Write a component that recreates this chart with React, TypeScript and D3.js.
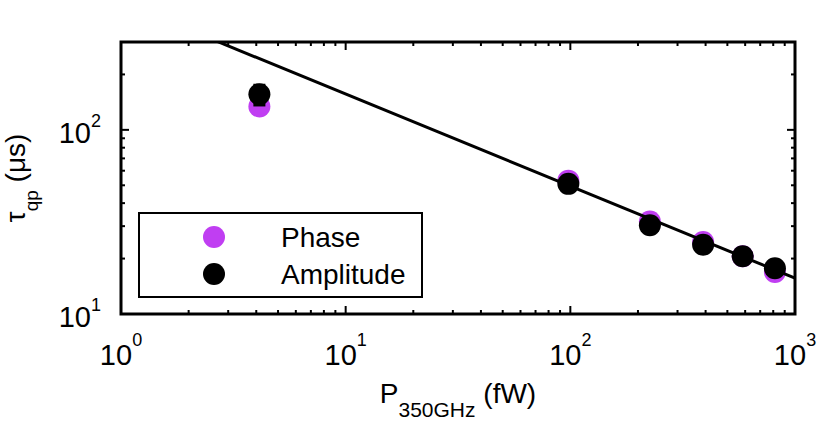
import React from 'react';
import * as d3 from 'd3';

const W = 830;
const H = 426;
const PLOT = { left: 121, right: 795, top: 42, bottom: 314 };

// measured data
const power = [4.13, 98, 226, 390, 585, 814];
const phaseTau = [134, 53, 31.8, 24.6, 20.6, 16.9];
const ampTau = [156, 50.9, 30.3, 23.8, 20.6, 17.7];
const ampErr = [22, 1, 1, 1, 0.8, 0.6];

// power-law fit, tau ~ P^-0.5
const fitP = [1, 1000];
const fitTau = [495, 15.65];

const xTickExps = [0, 1, 2, 3];
const yTickExps = [1, 2];

const PURPLE = '#c03ef2';
const FONT = '"Liberation Sans", Arial, Helvetica, sans-serif';

const App: React.FC = () => {
  const x = d3.scaleLog().domain([1, 1000]).range([PLOT.left, PLOT.right]);
  const y = d3.scaleLog().domain([10, 300]).range([PLOT.bottom, PLOT.top]);

  const isMajor = (v: number) => Math.abs(Math.log10(v) - Math.round(Math.log10(v))) < 1e-9;
  const xTicks = x.ticks();
  const yTicks = y.ticks();

  const line = d3
    .line<number>()
    .x((_, i) => x(fitP[i]))
    .y(d => y(d));

  const r = 11;

  return (
    <svg
      width={W}
      height={H}
      style={{ position: 'absolute', left: 0, top: 0, background: '#fff' }}
      fontFamily={FONT}
    >
      <defs>
        <clipPath id="plot-clip">
          <rect x={PLOT.left} y={PLOT.top} width={PLOT.right - PLOT.left} height={PLOT.bottom - PLOT.top} />
        </clipPath>
      </defs>

      {/* ticks on all four sides, pointing inward */}
      {xTicks.map(t => {
        const len = isMajor(t) ? 8 : 4;
        return (
          <g key={'xt' + t} stroke="#000" strokeWidth={2}>
            <line x1={x(t)} x2={x(t)} y1={PLOT.bottom} y2={PLOT.bottom - len} />
            <line x1={x(t)} x2={x(t)} y1={PLOT.top} y2={PLOT.top + len} />
          </g>
        );
      })}
      {yTicks.map(t => {
        const len = isMajor(t) ? 8 : 4;
        return (
          <g key={'yt' + t} stroke="#000" strokeWidth={2}>
            <line x1={PLOT.left} x2={PLOT.left + len} y1={y(t)} y2={y(t)} />
            <line x1={PLOT.right} x2={PLOT.right - len} y1={y(t)} y2={y(t)} />
          </g>
        );
      })}

      {/* data */}
      <g clipPath="url(#plot-clip)">
        {power.map((p, i) => (
          <circle key={'ph' + i} cx={x(p)} cy={y(phaseTau[i])} r={r} fill={PURPLE} />
        ))}
        {power.map((p, i) => (
          <rect
            key={'er' + i}
            x={x(p) - 6}
            width={12}
            y={y(ampTau[i] + ampErr[i])}
            height={y(ampTau[i] - ampErr[i]) - y(ampTau[i] + ampErr[i])}
            fill="#000"
          />
        ))}
        {power.map((p, i) => (
          <circle key={'am' + i} cx={x(p)} cy={y(ampTau[i])} r={r} fill="#000" />
        ))}
        <path d={line(fitTau) || ''} fill="none" stroke="#000" strokeWidth={3} />
      </g>

      {/* frame */}
      <rect
        x={PLOT.left}
        y={PLOT.top}
        width={PLOT.right - PLOT.left}
        height={PLOT.bottom - PLOT.top}
        fill="none"
        stroke="#000"
        strokeWidth={3}
      />

      {/* tick labels */}
      {xTickExps.map(e => (
        <text key={'xl' + e} x={x(Math.pow(10, e))} y={PLOT.bottom + 51} textAnchor="middle" fontSize={29}>
          10
          <tspan fontSize={18} dy={-19}>{e}</tspan>
        </text>
      ))}
      {yTickExps.map(e => (
        <text key={'yl' + e} x={PLOT.left - 20} y={y(Math.pow(10, e)) + 13} textAnchor="end" fontSize={29}>
          10
          <tspan fontSize={18} dy={-16}>{e}</tspan>
        </text>
      ))}

      {/* axis titles */}
      <text x={(PLOT.left + PLOT.right) / 2} y={403} textAnchor="middle" fontSize={28}>
        P<tspan fontSize={21} dy={14}>350GHz</tspan>
        <tspan dy={-14}> (fW)</tspan>
      </text>
      <text transform={`translate(25, ${(PLOT.top + PLOT.bottom) / 2}) rotate(-90)`} textAnchor="middle" fontSize={28}>
        τ<tspan fontSize={19} dy={13}>qp</tspan>
        <tspan dy={-13}> (μs)</tspan>
      </text>

      {/* legend */}
      <rect x={139} y={213} width={283} height={84} fill="#fff" stroke="#000" strokeWidth={2} />
      <circle cx={214} cy={237} r={r} fill={PURPLE} />
      <circle cx={214} cy={274} r={r} fill="#000" />
      <text x={281} y={247} fontSize={28}>Phase</text>
      <text x={281} y={284} fontSize={28}>Amplitude</text>
    </svg>
  );
};

export default App;
